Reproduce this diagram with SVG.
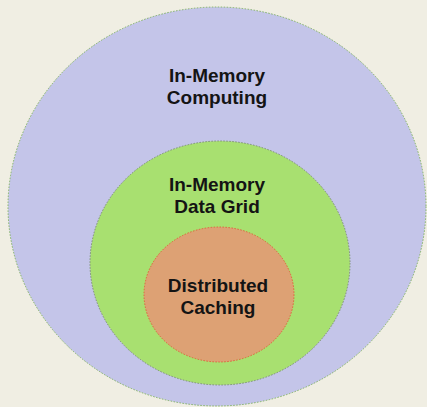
<svg xmlns="http://www.w3.org/2000/svg" width="427" height="407" viewBox="0 0 427 407">
  <style>
    .ring { stroke-width: 1; stroke-dasharray: 1.5 1.5; }
    .label { font-family: "Liberation Sans", Arial, sans-serif; font-weight: bold; font-size: 19px; fill: #141414; text-anchor: middle; }
  </style>
  <rect width="427" height="407" fill="#f0eee3"/>
  <g id="in-memory-computing">
    <ellipse class="ring" cx="217" cy="206.5" rx="209" ry="199.5" fill="#c4c5e9" stroke="#82b366"/>
    <text class="label" x="217" y="82">In-Memory</text>
    <text class="label" x="217" y="104">Computing</text>
  </g>
  <g id="in-memory-data-grid">
    <ellipse class="ring" cx="220" cy="263" rx="130" ry="122" fill="#a8e070" stroke="#7d8f76"/>
    <text class="label" x="217" y="191">In-Memory</text>
    <text class="label" x="217" y="213">Data Grid</text>
  </g>
  <g id="distributed-caching">
    <ellipse class="ring" cx="219" cy="294.5" rx="75" ry="67.5" fill="#dda174" stroke="#e0603c"/>
    <text class="label" x="218" y="292">Distributed</text>
    <text class="label" x="218" y="314">Caching</text>
  </g>
  <g id="connectors"/>
</svg>
